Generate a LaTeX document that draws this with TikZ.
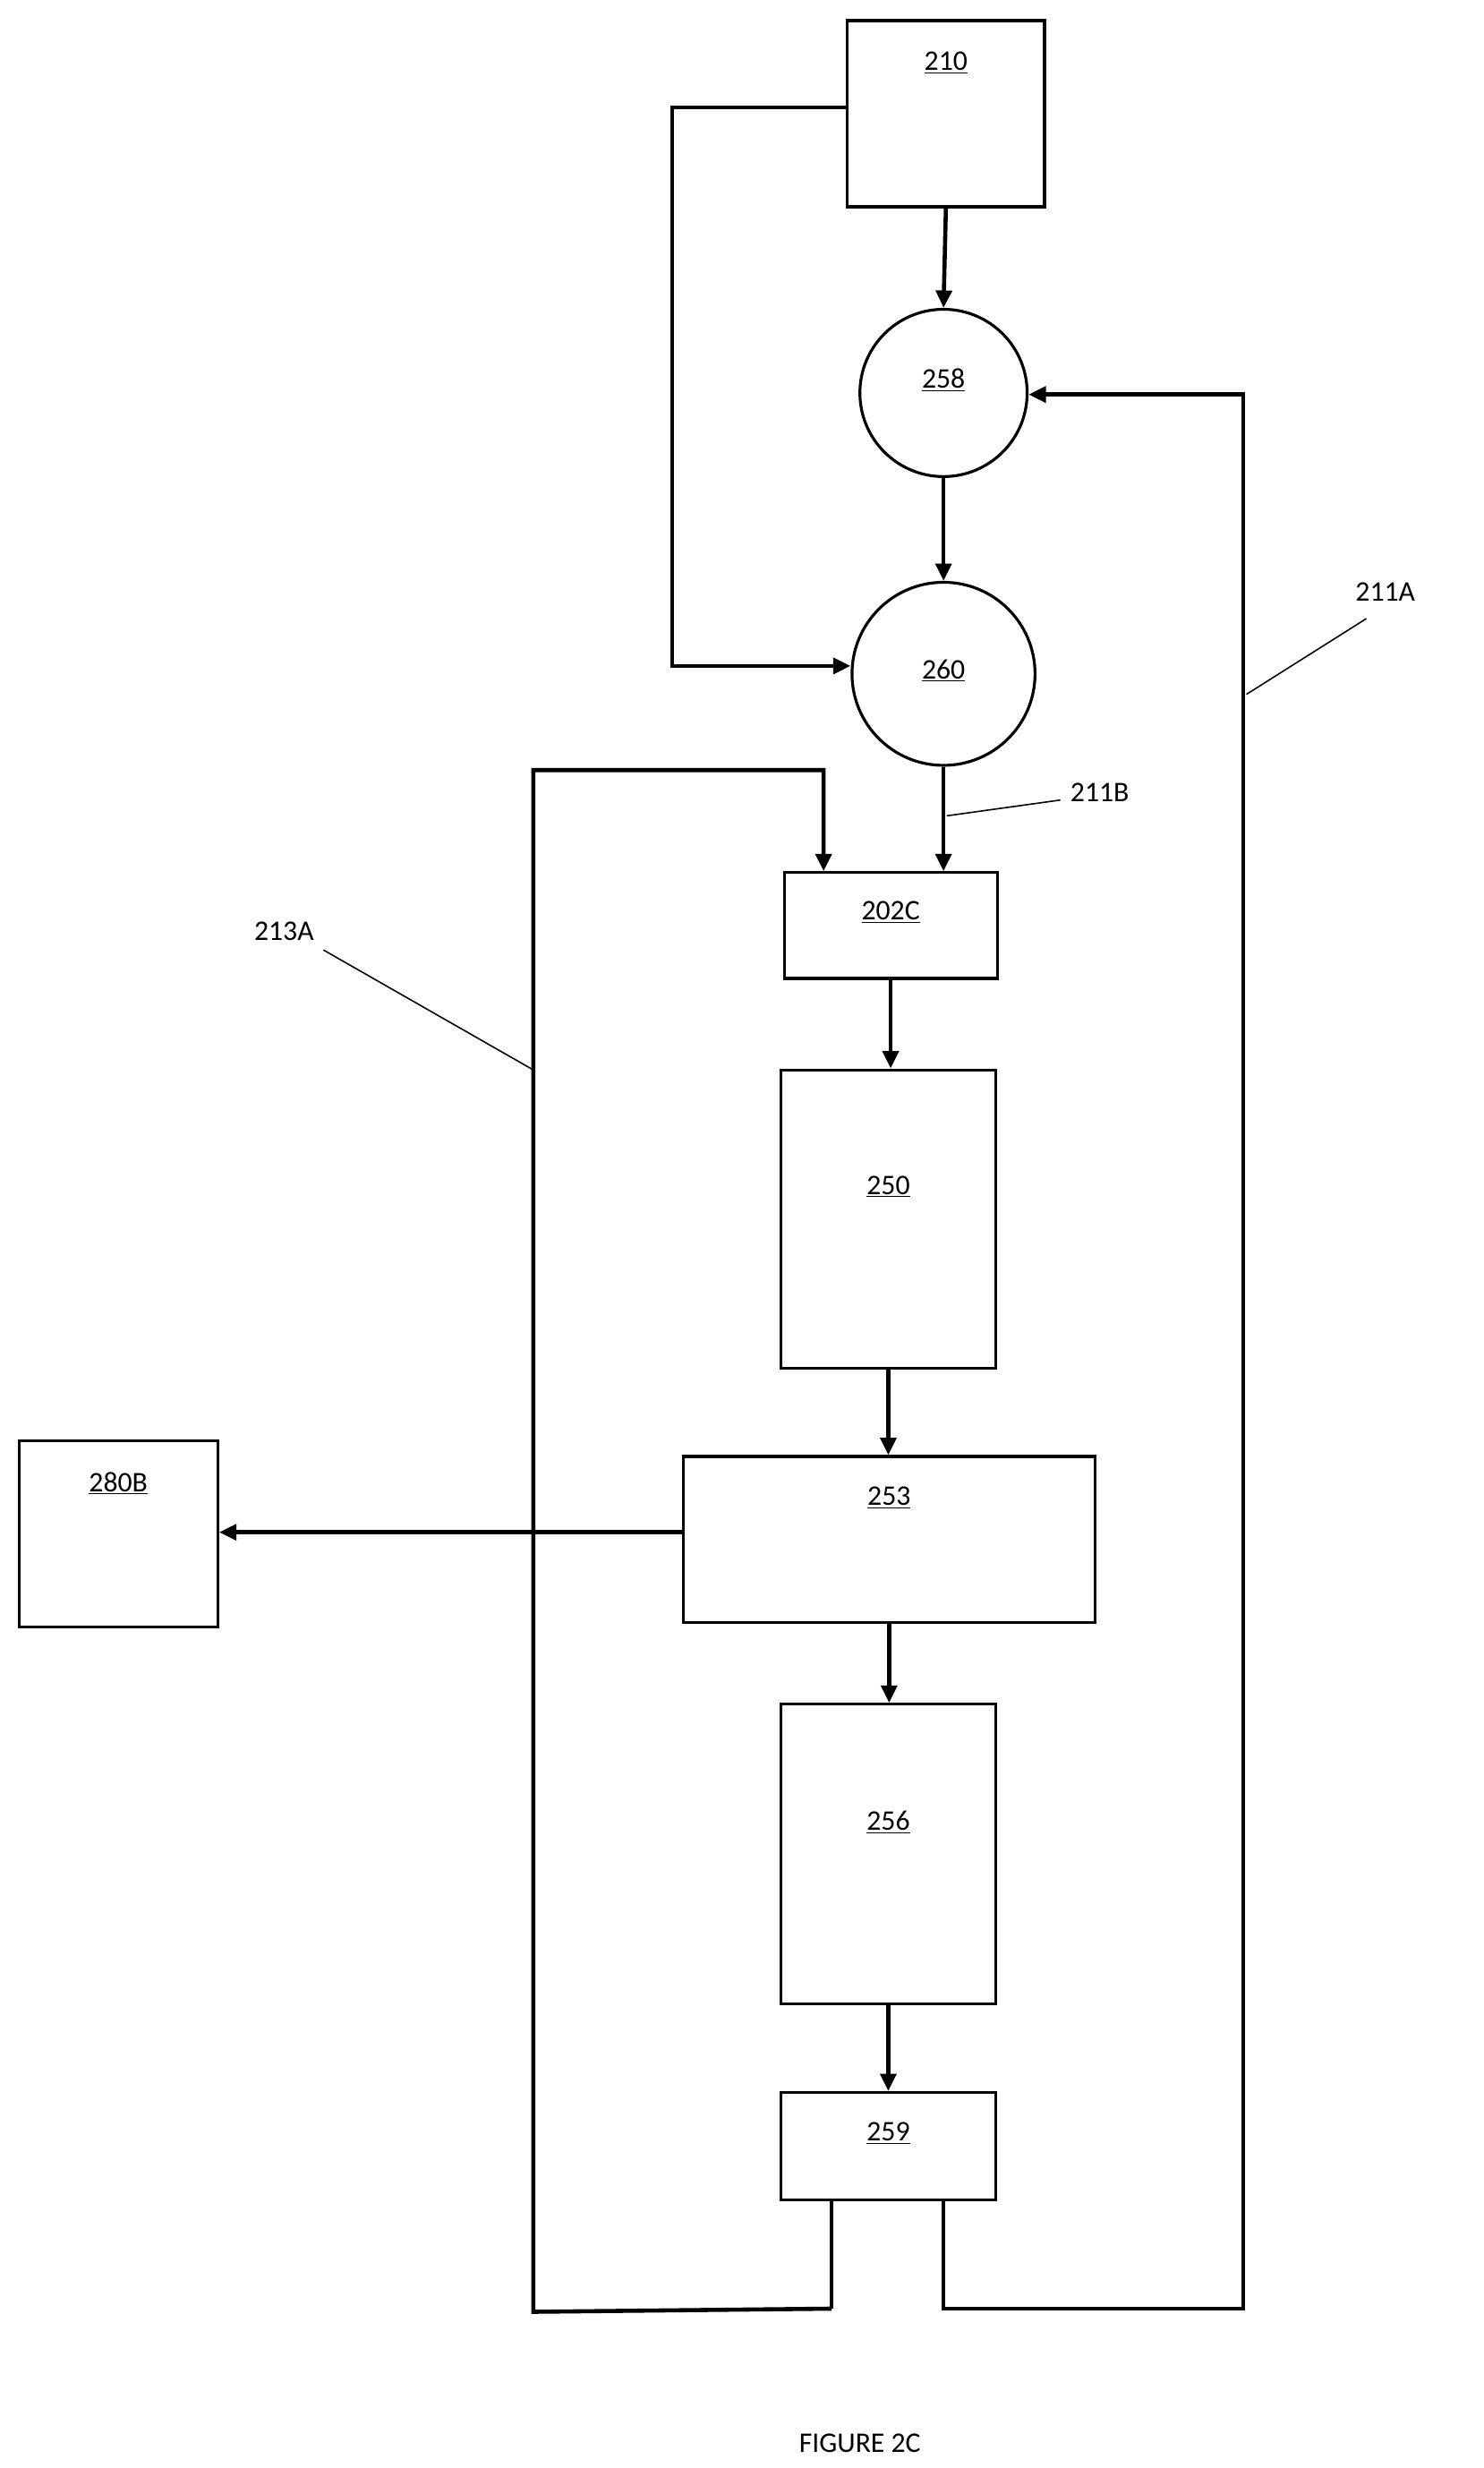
\documentclass[tikz,border=0pt]{standalone}
\usepackage{fontspec}
\setmainfont{Carlito}
\usetikzlibrary{arrows.meta}
\begin{document}
\begin{tikzpicture}[x=1pt,y=-1pt,
  box/.style={draw,line width=1.8pt,inner sep=0},
  flow/.style={line width=2.6pt,-{Triangle[length=11pt,width=10pt]}},
  line/.style={line width=2.6pt},
  lead/.style={line width=0.9pt},
  lab/.style={font=\fontsize{18}{20}\selectfont},
  every node/.style={font=\fontsize{18}{20}\selectfont}]
\useasboundingbox[fill=white] (0,0) rectangle (940,1564);
% boxes
\node[box,minimum width=125pt,minimum height=118pt] (b210) at (599.5,72) {};
\node[anchor=center] at (599.5,40) {\underline{210}};
\node[box,circle,minimum size=106pt] (c258) at (598,249) {};
\node at (598,241) {\underline{258}};
\node[box,circle,minimum size=116pt] (c260) at (598,427) {};
\node at (598,425) {\underline{260}};
\node[box,minimum width=135pt,minimum height=67pt] (b202) at (564.5,586.5) {};
\node at (564.5,578) {\underline{202C}};
\node[box,minimum width=136pt,minimum height=189pt] (b250) at (563,772.5) {};
\node at (563,752) {\underline{250}};
\node[box,minimum width=261pt,minimum height=105pt] (b253) at (563.5,975.5) {};
\node at (563.5,949) {\underline{253}};
\node[box,minimum width=136pt,minimum height=190pt] (b256) at (563,1175) {};
\node at (563,1155) {\underline{256}};
\node[box,minimum width=136pt,minimum height=68pt] (b259) at (563,1360) {};
\node at (563,1352) {\underline{259}};
\node[box,minimum width=126pt,minimum height=118pt] (b280) at (75,972) {};
\node at (75,940) {\underline{280B}};
% coordinates
\coordinate (l1) at (527,1394);
\coordinate (l2) at (527,1463);
\coordinate (l3) at (338,1465);
\coordinate (l4) at (338,488);
\coordinate (l5) at (522,488);
\coordinate (r1) at (598,1394);
\coordinate (r2) at (598,1463);
\coordinate (r3) at (788,1463);
\coordinate (r4) at (788,250);
\coordinate (t1) at (537,68);
\coordinate (t2) at (426,68);
\coordinate (t3) at (426,422);
% flows
\draw[flow] (b210.south) -- (c258.north);
\draw[flow] (c258.south) -- (c260.north);
\draw[flow] (c260.south) -- (b202.north -| c260.south);
\draw[flow] (b202.south) -- (b250.north -| b202.south);
\draw[flow] (b250.south) -- (b253.north -| b250.south);
\draw[flow] (b253.south) -- (b256.north -| b253.south);
\draw[flow] (b256.south) -- (b259.north -| b256.south);
\draw[flow] (l2) -- (l3) -- (l4) -- (l5) -- (b202.north -| l5);
\draw[line] (l1) -- (l2);
\draw[flow] (r1) -- (r2) -- (r3) -- (r4) -- (c258.east |- r4);
\draw[flow] (t1) -- (t2) -- (t3) -- (c260.west |- t3);
\draw[flow] (b253.west |- 0,971) -- (b280.east |- 0,971);
% leaders
\node (n211A) at (878,375) {211A};
\draw[lead] (866,392) -- (790,440);
\node (n211B) at (697,502) {211B};
\draw[lead] (672,507) -- (600,517);
\node (n213A) at (180,590) {213A};
\draw[lead] (205,602) -- (338,678);
\node (fig) at (545,1548) {FIGURE 2C};
\end{tikzpicture}
\end{document}
